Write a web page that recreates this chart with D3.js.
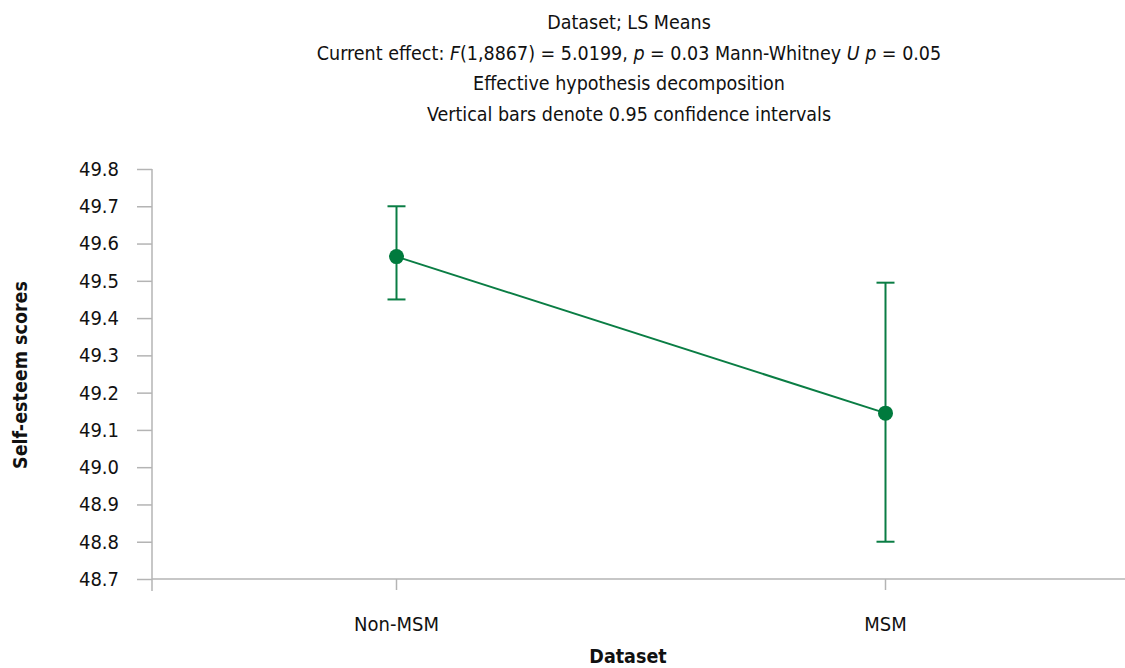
<html lang="en">
<head>
    <meta charset="utf-8">
    <style type="text/css">
        body { margin: 0; background: #fff; }
        svg text { font-family: "Liberation Sans Narrow", "DejaVu Sans Condensed", "Arial Narrow", sans-serif; fill: #111; }
        .axis path, .axis line { stroke: #b4b4b4; stroke-width: 1.5px; }
        .axis text { font-size: 20px; }
        .ci { stroke: #0a7d44; stroke-width: 2px; fill: none; }
        .trend { stroke: #0a7d44; stroke-width: 2px; fill: none; }
    </style>
</head>
<body>
<svg width="1125" height="668"></svg>

<script src="https://d3js.org/d3.v7.min.js"></script>
<script type="text/javascript">
    // data
    var categories = ["Non-MSM", "MSM"];
    var means = [49.565, 49.145];
    var ciLow = [49.45, 48.80];
    var ciHigh = [49.70, 49.495];
    var yTicks = [48.7, 48.8, 48.9, 49.0, 49.1, 49.2, 49.3, 49.4, 49.5, 49.6, 49.7, 49.8];
    var titleLines = [
        "Dataset; LS Means",
        null, // rich line, built below
        "Effective hypothesis decomposition",
        "Vertical bars denote 0.95 confidence intervals"
    ];

    var svg = d3.select("svg"),
        plotLeft = 152, plotRight = 1130, plotTop = 169, plotBottom = 579;

    var x = d3.scaleBand().domain(categories).range([plotLeft, plotRight]);
    var y = d3.scaleLinear().domain([48.7, 49.8]).range([plotBottom, plotTop]);
    var cx = function (c) { return x(c) + x.bandwidth() / 2; };

    // y axis
    var yAxis = svg.append("g")
        .attr("class", "axis")
        .attr("transform", "translate(" + plotLeft + ",0)")
        .call(d3.axisLeft(y).tickValues(yTicks).tickFormat(d3.format(".1f")).tickSize(15).tickPadding(18).tickSizeOuter(0));
    yAxis.select(".domain").remove();
    yAxis.append("line")
        .attr("x1", 0).attr("x2", 0)
        .attr("y1", plotTop).attr("y2", plotBottom + 12);

    // x axis
    var xAxis = svg.append("g")
        .attr("class", "axis")
        .attr("transform", "translate(0," + plotBottom + ")")
        .call(d3.axisBottom(x).tickSize(11).tickPadding(27).tickSizeOuter(0));
    xAxis.select(".domain").remove();
    xAxis.append("line")
        .attr("x1", plotLeft).attr("x2", 1125)
        .attr("y1", 0).attr("y2", 0);

    // axis titles
    svg.append("text")
        .attr("x", 628).attr("y", 663)
        .attr("text-anchor", "middle")
        .style("font-size", "19.5px").style("font-weight", "bold")
        .text("Dataset");
    svg.append("text")
        .attr("transform", "translate(27,375) rotate(-90)")
        .attr("text-anchor", "middle")
        .style("font-size", "19.5px").style("font-weight", "bold")
        .text("Self-esteem scores");

    // title
    var title = svg.append("g").attr("text-anchor", "middle").style("font-size", "19.5px");
    titleLines.forEach(function (t, i) {
        var tx = title.append("text").attr("x", 629).attr("y", 29 + i * 30.5);
        if (t) { tx.text(t); return; }
        tx.append("tspan").text("Current effect: ");
        tx.append("tspan").style("font-style", "italic").text("F");
        tx.append("tspan").text("(1,8867) = 5.0199, ");
        tx.append("tspan").style("font-style", "italic").text("p");
        tx.append("tspan").text(" = 0.03 Mann-Whitney ");
        tx.append("tspan").style("font-style", "italic").text("U p");
        tx.append("tspan").text(" = 0.05");
    });

    var pts = categories.map(function (c, i) {
        return {cat: c, mean: means[i], lo: ciLow[i], hi: ciHigh[i]};
    });

    // line joining means
    svg.append("path")
        .datum(pts)
        .attr("class", "trend")
        .attr("d", d3.line().x(function (d) { return cx(d.cat); }).y(function (d) { return y(d.mean); }));

    // confidence intervals
    var ci = svg.selectAll(".cig").data(pts).enter().append("g");
    ci.append("line").attr("class", "ci")
        .attr("x1", function (d) { return cx(d.cat); })
        .attr("x2", function (d) { return cx(d.cat); })
        .attr("y1", function (d) { return y(d.lo); })
        .attr("y2", function (d) { return y(d.hi); });
    ["lo", "hi"].forEach(function (k) {
        ci.append("line").attr("class", "ci")
            .attr("x1", function (d) { return cx(d.cat) - 9; })
            .attr("x2", function (d) { return cx(d.cat) + 9; })
            .attr("y1", function (d) { return y(d[k]); })
            .attr("y2", function (d) { return y(d[k]); });
    });

    // mean markers
    svg.selectAll(".pt").data(pts).enter().append("circle")
        .attr("cx", function (d) { return cx(d.cat); })
        .attr("cy", function (d) { return y(d.mean); })
        .attr("r", 7.5)
        .style("fill", "#007a3d");
</script>
</body>
</html>
